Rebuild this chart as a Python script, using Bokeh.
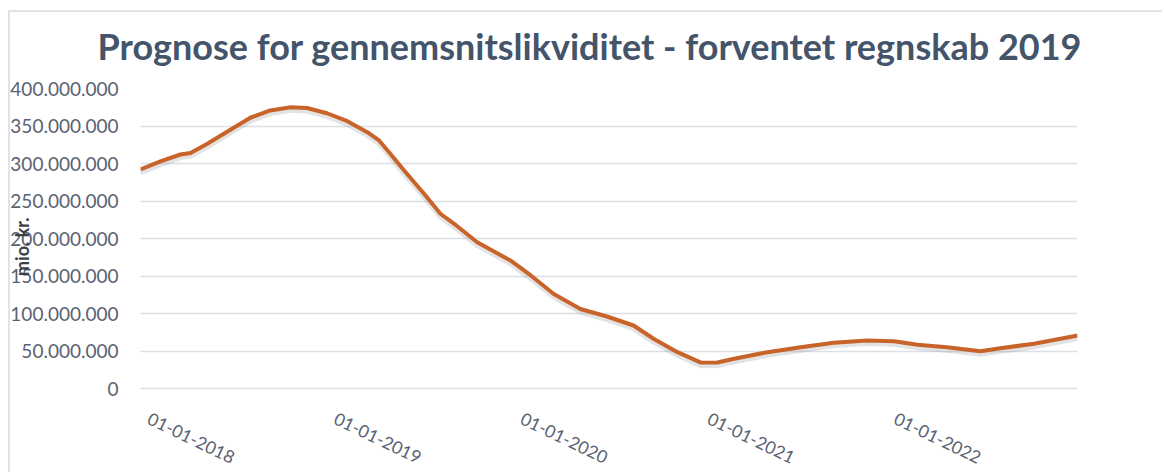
from datetime import datetime
from bokeh.plotting import figure
from bokeh.models import (FixedTicker, CustomJSTickFormatter, ColumnDataSource, Range1d)
from bokeh.core.properties import value
from bokeh.transform import dodge
from bokeh.embed import file_html
from bokeh.resources import INLINE

# ---- data ----
title_text = "Prognose for gennemsnitslikviditet  - forventet regnskab 2019"
y_label = "mio. kr."
dates = ["2017-12-18", "2018-01-26", "2018-03-06", "2018-03-26", "2018-04-27", "2018-06-12",
         "2018-07-21", "2018-08-29", "2018-10-08", "2018-11-09", "2018-12-18", "2019-01-27",
         "2019-03-07", "2019-03-30", "2019-04-21", "2019-05-18", "2019-06-26", "2019-07-28",
         "2019-08-24", "2019-10-08", "2019-12-12", "2020-01-21", "2020-03-06", "2020-04-27",
         "2020-06-18", "2020-08-09", "2020-09-18", "2020-11-03", "2020-12-19", "2021-01-20",
         "2021-02-22", "2021-04-28", "2021-07-02", "2021-09-05", "2021-11-09", "2022-01-01",
         "2022-02-16", "2022-04-15", "2022-06-19", "2022-07-28", "2022-10-02", "2022-12-26"]
values = [292e6, 302.7e6, 312e6, 314e6, 326e6, 345e6,
          361e6, 370.7e6, 375e6, 374e6, 367e6, 356.4e6,
          341.8e6, 330.7e6, 313e6, 290.7e6, 259.6e6, 233e6,
          219.6e6, 195e6, 170.7e6, 150.7e6, 126e6, 106e6,
          96e6, 84e6, 66e6, 48.4e6, 34.5e6, 34.7e6,
          39.6e6, 48.4e6, 55e6, 61e6, 64e6, 63e6,
          58.2e6, 55e6, 49.8e6, 53.8e6, 59.6e6, 70.7e6]
y_ticks = [0, 50e6, 100e6, 150e6, 200e6, 250e6, 300e6, 350e6, 400e6]
x_tick_labels = ["01-01-2018", "01-01-2019", "01-01-2020", "01-01-2021", "01-01-2022"]

# ---- build ----
x = [datetime.strptime(d, "%Y-%m-%d") for d in dates]
src = ColumnDataSource(dict(x=x, y=values))
tick_src = ColumnDataSource(dict(
    x=[datetime.strptime(t, "%d-%m-%Y") for t in x_tick_labels],
    y=[y_ticks[0]] * len(x_tick_labels),
    text=x_tick_labels))

p = figure(width=1162, height=472, x_axis_type="datetime", output_backend="svg",
           toolbar_location=None, min_border_left=140, min_border_right=85,
           min_border_top=88, min_border_bottom=0)
p.border_fill_color = None
edge = "linear-gradient(#e2e2ea, #e2e2ea)"
p.styles = {"background": f"{edge} 8px 10px / 2px calc(100% - 10px) no-repeat, "
                          f"{edge} 8px 10px / calc(100% - 8px) 2px no-repeat, white"}
p.x_range = Range1d(x[0], x[-1])
p.y_range = Range1d(-112e6, y_ticks[-1])

p.title.text = title_text
p.title.text_font = "Lato"
p.title.text_font_style = "bold"
p.title.text_font_size = "36px"
p.title.text_color = "#44546A"
p.title.align = "left"
p.title.offset = -43
p.title.standoff = 41

p.outline_line_color = None
p.xgrid.grid_line_color = None
p.ygrid.grid_line_color = "#dcdfe6"
p.ygrid.grid_line_width = 1.5

p.xaxis.visible = False

ya = p.yaxis[0]
ya.ticker = FixedTicker(ticks=y_ticks)
ya.formatter = CustomJSTickFormatter(code="""
return Math.round(tick).toString().replace(/\\B(?=(\\d{3})+(?!\\d))/g, ".");
""")
ya.axis_line_color = None
ya.major_tick_line_color = None
ya.minor_tick_line_color = None
ya.major_tick_out = 0
ya.major_tick_in = 0
ya.minor_tick_out = 0
ya.minor_tick_in = 0
ya.major_label_text_font = "Lato"
ya.major_label_text_font_size = "19px"
ya.major_label_text_color = "#5a6272"
ya.major_label_standoff = 22
# axis title overlaps the tick labels, as in the original; the leading
# wide spaces lift it from the frame centre to the 0-400 mio. span centre
ya.axis_label = "\u2003\u2003\u2003\u2003\u2003" + y_label
ya.axis_label_text_font = "Lato"
ya.axis_label_text_font_style = "bold"
ya.axis_label_text_font_size = "18px"
ya.axis_label_text_color = "#3b3f46"
ya.axis_label_standoff = -26

# date labels along the x baseline
p.text(x="x", y="y", text="text", source=tick_src, angle=-0.45,
       x_offset=4, y_offset=23, text_align="left", text_baseline="top",
       text_font=value("Lato"), text_font_size="17.5px", text_color="#5a6272")

# shadow and line
p.line(x="x", y=dodge("y", -3.5e6, range=p.y_range), source=src,
       line_color="#808080", line_alpha=0.22, line_width=6)
p.line(x="x", y="y", source=src, line_color="#C8642A", line_width=4)

open("out.html", "w").write(file_html(p, INLINE))
